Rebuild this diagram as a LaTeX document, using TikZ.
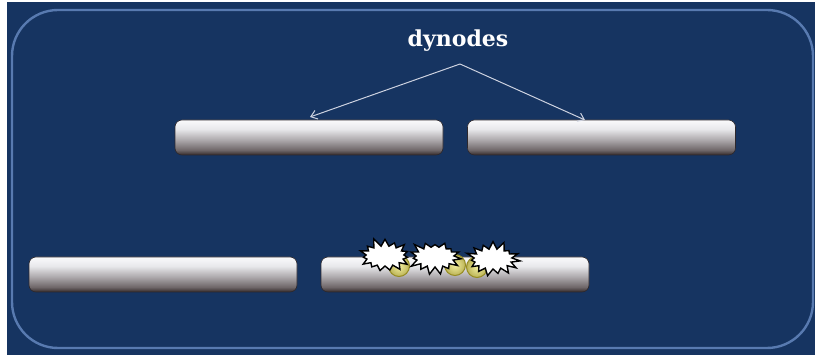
\documentclass[tikz,border=0pt]{standalone}
\usepackage{fontspec}
\newfontfamily\labelfont{DejaVu Serif}
\usetikzlibrary{arrows.meta,shapes.symbols}

\definecolor{slide}{RGB}{22,52,97}
\definecolor{rim}{RGB}{88,122,176}
\definecolor{pointer}{RGB}{205,210,224}
\definecolor{btop}{RGB}{250,250,252}
\definecolor{btop2}{RGB}{232,232,235}
\definecolor{bmid}{RGB}{170,166,169}
\definecolor{bbot2}{RGB}{110,102,104}
\definecolor{bbot}{RGB}{52,42,42}
\definecolor{eyellow}{RGB}{242,238,160}
\definecolor{eolive}{RGB}{150,140,35}

% vertical shading of a dynode plate: light top, dark lower edge
\pgfdeclareverticalshading{plateshade}{100bp}{%
  color(0bp)=(bbot); color(25bp)=(bbot); color(32bp)=(bbot2);
  color(46bp)=(bmid); color(62bp)=(btop2); color(75bp)=(btop); color(100bp)=(btop)}

\tikzset{
  plate/.style={rectangle, rounded corners=7pt, minimum width=268pt,
    minimum height=35pt, inner sep=0pt, draw={rgb,255:red,45;green,40;blue,45},
    line width=0.6pt, shading=plateshade},
  pointer/.style={draw=pointer, line width=1pt,
    -{Straight Barb[length=6pt,width=9pt]}},
  flash/.style={starburst, starburst points=15, starburst point height=9pt,
    inner sep=0pt, minimum width=56pt, minimum height=38pt,
    draw=black, line width=1.4pt, fill=white},
  electron/.style={circle, minimum size=21pt, inner sep=0pt,
    draw=eolive, line width=1pt, shading=radial,
    inner color=eyellow, outer color=eolive!60!eyellow},
}

\begin{document}
\begin{tikzpicture}[x=1pt,y=-1pt]
  \useasboundingbox (0,0) rectangle (815,355);
  % slide background with its rounded frame
  \fill[white] (0,0) rectangle (815,355);
  \fill[slide] (7,2) rectangle (815,355);
  \draw[rim, line width=2.4pt, rounded corners=46pt] (12,10) rectangle (813,348);

  % dynode plates
  \node[plate] (d1) at (309,137.5) {};
  \node[plate] (d2) at (601.5,137.5) {};
  \node[plate] (d3) at (163,274.5) {};
  \node[plate] (d4) at (455,274.5) {};

  % label and its pointers
  \node[text=white, font=\labelfont\bfseries\fontsize{22}{26}\selectfont]
    (lbl) at (458,41) {dynodes};
  \coordinate (apex) at (460,64);
  \coordinate (t1) at (310,117);
  \coordinate (t2) at (585,120);
  \draw[pointer] (apex) -- (t1);
  \draw[pointer] (apex) -- (t2);

  % electrons striking the plate
  \node[electron] (e1) at (399,266) {};
  \node[electron] (e2) at (455,265) {};
  \node[electron] (e3) at (477,267) {};

  % secondary emission flashes
  \node[flash, random starburst=11] (f1) at (385,256) {};
  \node[flash, random starburst=23] (f2) at (435,257) {};
  \node[flash, random starburst=37] (f3) at (493,259) {};
\end{tikzpicture}
\end{document}
